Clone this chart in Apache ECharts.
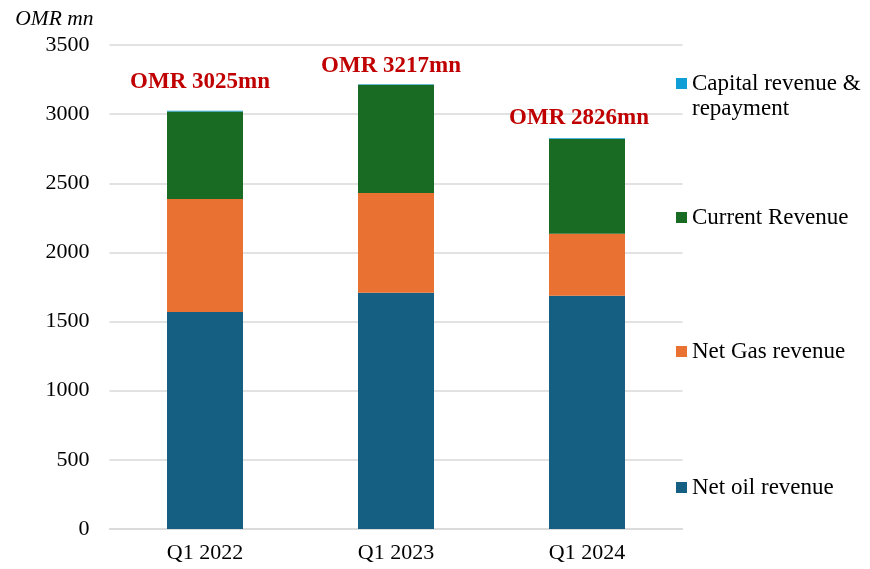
<!DOCTYPE html>
<html>
<head>
<meta charset="utf-8">
<script src="https://cdn.jsdelivr.net/npm/echarts@6/dist/echarts.min.js"></script>
<style>
  html, body { margin: 0; padding: 0; background: #fff; }
  #chart { width: 870px; height: 569px; }
</style>
</head>
<body>
<div id="chart"></div>
<script>
const categories = ['Q1 2022', 'Q1 2023', 'Q1 2024'];
const netOil = [1569, 1709, 1687];
const netGas = [817, 721, 448];
const currentRevenue = [634, 782, 686];
const capitalRevenue = [5, 5, 5];
const totals = [3025, 3217, 2826];
const yTicks = [0, 500, 1000, 1500, 2000, 2500, 3000, 3500];

const serif = '"Liberation Serif", "DejaVu Serif", serif';
// the total labels are not centred exactly over each bar
const labelShift = [[-5, -8], [-5, 2], [-8, 0]];

const chart = echarts.init(document.getElementById('chart'));

// one legend per item so the spacing matches the picture
const legendItem = (name, top, fmt) => ({
  data: [name],
  orient: 'vertical',
  left: 671,
  top: top,
  icon: 'rect',
  itemWidth: 11,
  itemHeight: 11,
  itemGap: 0,
  selectedMode: false,
  formatter: fmt || '{name}',
  textStyle: { fontFamily: serif, fontSize: 23, color: '#000', lineHeight: 25 }
});

const option = {
  animation: false,
  grid: { left: 109.5, right: 187.5, top: 45, bottom: 40 },
  legend: [
    legendItem('Capital revenue & repayment', 41, '\nCapital revenue &\nrepayment'),
    legendItem('Current Revenue', 200),
    legendItem('Net Gas revenue', 334),
    legendItem('Net oil revenue', 470)
  ],
  xAxis: {
    type: 'category',
    data: categories,
    axisTick: { show: false },
    axisLine: { lineStyle: { color: '#d9d9d9', width: 1.5 } },
    axisLabel: { fontFamily: serif, fontSize: 22, color: '#000', margin: 13 }
  },
  yAxis: {
    type: 'value',
    min: yTicks[0],
    max: yTicks[yTicks.length - 1],
    interval: 500,
    name: 'OMR mn',
    nameGap: 15,
    nameTextStyle: { fontFamily: serif, fontSize: 21.5, fontStyle: 'italic', color: '#000', align: 'right', padding: [0, 16, 0, 0] },
    axisLabel: { fontFamily: serif, fontSize: 22, color: '#000', margin: 20, formatter: v => String(v) },
    splitLine: { lineStyle: { color: '#d9d9d9', width: 1.5 } }
  },
  series: [
    { name: 'Net oil revenue', type: 'bar', stack: 'total', barWidth: 76, data: netOil, itemStyle: { color: '#156082' } },
    { name: 'Net Gas revenue', type: 'bar', stack: 'total', data: netGas, itemStyle: { color: '#E97132' } },
    { name: 'Current Revenue', type: 'bar', stack: 'total', data: currentRevenue, itemStyle: { color: '#196B24' } },
    {
      name: 'Capital revenue & repayment', type: 'bar', stack: 'total',
      data: capitalRevenue.map((v, i) => ({ value: v, label: { offset: labelShift[i] } })),
      itemStyle: { color: '#0F9ED5' },
      label: {
        show: true,
        position: 'top',
        distance: 9,
        formatter: p => 'OMR ' + totals[p.dataIndex] + 'mn',
        fontFamily: serif,
        fontSize: 23,
        fontWeight: 'bold',
        color: '#C00000'
      }
    }
  ]
};
chart.setOption(option);
</script>
</body>
</html>
